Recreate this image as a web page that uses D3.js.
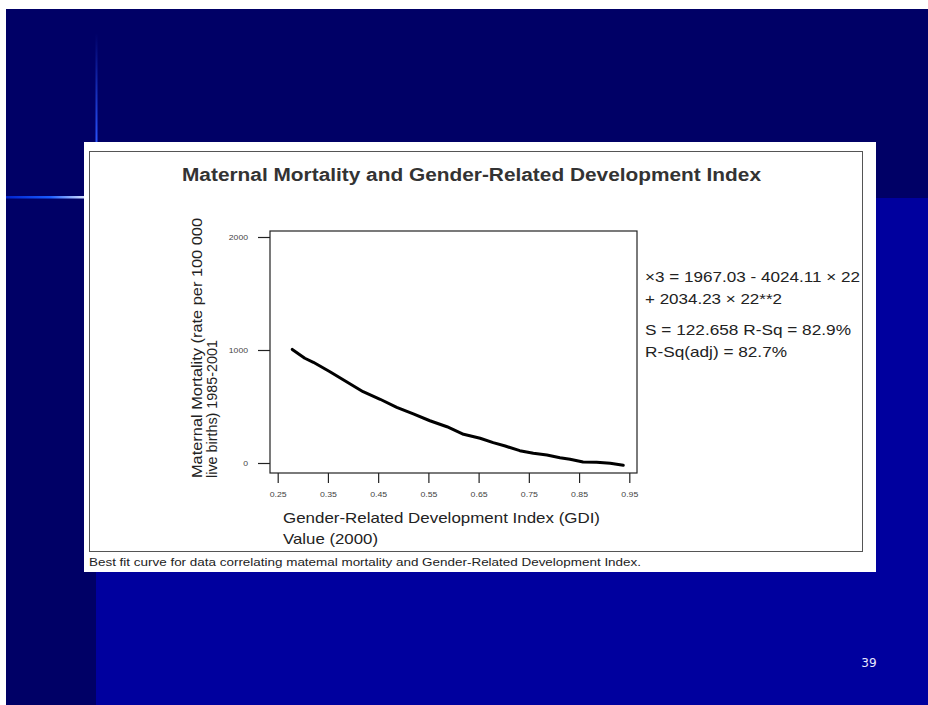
<!DOCTYPE html>
<html>
<head>
<meta charset="utf-8">
<script src="https://cdn.jsdelivr.net/npm/d3@7"></script>
<style>
  body { margin: 0; background: #fff; }
  svg { display: block; }
</style>
</head>
<body>
<script>
// values
var gdi = [0.279, 0.304, 0.321, 0.354, 0.387, 0.420, 0.454, 0.487, 0.520, 0.553, 0.587, 0.620,
           0.653, 0.679, 0.703, 0.732, 0.759, 0.786, 0.812, 0.832, 0.858, 0.885, 0.912, 0.938];
var mortality = [1005, 927, 891, 808, 719, 631, 564, 493, 434, 374, 321, 254,
                 219, 180, 150, 109, 86, 71, 47, 33, 9, 6, -3, -20];
var xTicks = [0.25, 0.35, 0.45, 0.55, 0.65, 0.75, 0.85, 0.95];
var yTicks = [0, 1000, 2000];
var fitLines = ["\u00d73 = 1967.03 - 4024.11 \u00d7 22", "+ 2034.23 \u00d7 22**2"];
var statLines = ["S = 122.658 R-Sq = 82.9%", "R-Sq(adj) = 82.7%"];

var W = 928, H = 705;
var font = "Arial, 'Liberation Sans', sans-serif";

// the source figure is stretched sideways, so text is fitted to its measured width
function stretch(sel, w) {
  sel.attr("textLength", w).attr("lengthAdjust", "spacingAndGlyphs");
}

var svg = d3.select("body").append("svg")
  .attr("width", W)
  .attr("height", H);

var defs = svg.append("defs");
var gv = defs.append("linearGradient").attr("id", "glowV")
  .attr("x1", 0).attr("y1", 0).attr("x2", 0).attr("y2", 1);
gv.append("stop").attr("offset", "0%").attr("stop-color", "#000066");
gv.append("stop").attr("offset", "100%").attr("stop-color", "#2a55ff");
var gh = defs.append("linearGradient").attr("id", "glowH")
  .attr("x1", 0).attr("y1", 0).attr("x2", 1).attr("y2", 0);
gh.append("stop").attr("offset", "0%").attr("stop-color", "#0022cc");
gh.append("stop").attr("offset", "55%").attr("stop-color", "#1a5cff");
gh.append("stop").attr("offset", "100%").attr("stop-color", "#e0e8ff");

// slide background
svg.append("rect").attr("x", 6).attr("y", 9).attr("width", W - 6).attr("height", H - 9)
  .attr("fill", "#000066");
svg.append("rect").attr("x", 96).attr("y", 198).attr("width", W - 96).attr("height", H - 198)
  .attr("fill", "#00009e");
svg.append("rect").attr("x", 95.5).attr("y", 33).attr("width", 2).attr("height", 112)
  .attr("fill", "url(#glowV)");
svg.append("rect").attr("x", 6).attr("y", 196).attr("width", 80).attr("height", 2.5)
  .attr("fill", "url(#glowH)");

// white figure panel
svg.append("rect").attr("x", 84).attr("y", 142).attr("width", 792).attr("height", 430)
  .attr("fill", "#fff");
svg.append("rect").attr("x", 89.5).attr("y", 151.5).attr("width", 773).attr("height", 400)
  .attr("fill", "none").attr("stroke", "#555").attr("stroke-width", 1);

svg.append("text")
  .attr("x", 182).attr("y", 181)
  .style("font", "bold 17.5px " + font)
  .attr("fill", "#333")
  .text("Maternal Mortality and Gender-Related Development Index")
  .call(stretch, 579);

// plot
var x = d3.scaleLinear().domain([0.25, 0.95]).range([277.7, 629.3]);
var y = d3.scaleLinear().domain([0, 2000]).range([463, 237]);
var box = { left: 270, right: 637, top: 231, bottom: 473 };

svg.append("rect")
  .attr("x", box.left).attr("y", box.top)
  .attr("width", box.right - box.left).attr("height", box.bottom - box.top)
  .attr("fill", "none").attr("stroke", "#222").attr("stroke-width", 1.2);

var xAxis = svg.append("g")
  .attr("transform", "translate(0," + box.bottom + ")")
  .call(d3.axisBottom(x).tickValues(xTicks).tickSize(10).tickPadding(9)
    .tickFormat(d3.format(".2f")));
var yAxis = svg.append("g")
  .attr("transform", "translate(" + box.left + ",0)")
  .call(d3.axisLeft(y).tickValues(yTicks).tickSize(12).tickPadding(10)
    .tickFormat(d3.format("d")));

[xAxis, yAxis].forEach(function(a) {
  a.select(".domain").remove();
  a.selectAll(".tick line").attr("stroke", "#222").attr("stroke-width", 1.2);
  a.selectAll(".tick text")
    .style("font-family", font)
    .style("font-size", "7px")
    .attr("fill", "#444");
});
xAxis.selectAll(".tick text").call(stretch, 17);
yAxis.selectAll(".tick text").each(function(d) {
  d3.select(this).call(stretch, String(d).length * 4.8);
});

var line = d3.line()
  .x(function(d, i) { return x(gdi[i]); })
  .y(function(d) { return y(d); });

svg.append("path")
  .datum(mortality)
  .attr("d", line)
  .attr("fill", "none")
  .attr("stroke", "#000")
  .attr("stroke-width", 3)
  .attr("stroke-linejoin", "round")
  .attr("stroke-linecap", "round");

// axis titles
var yt = svg.append("text")
  .attr("transform", "translate(202,478) rotate(-90)")
  .style("font", "14.5px " + font)
  .attr("fill", "#222");
yt.append("tspan").attr("x", 0).attr("y", 0)
  .text("Maternal Mortality (rate per 100 000").call(stretch, 260);
yt.append("tspan").attr("x", 0).attr("y", 15)
  .text("live births) 1985-2001").call(stretch, 138);

var xt = svg.append("text")
  .style("font", "15px " + font)
  .attr("fill", "#222");
xt.append("tspan").attr("x", 283).attr("y", 523)
  .text("Gender-Related Development Index (GDI)").call(stretch, 317);
xt.append("tspan").attr("x", 283).attr("y", 544)
  .text("Value (2000)").call(stretch, 95);

// regression text
var fitWidths = [215, 137], statWidths = [206, 142];
svg.selectAll(".fit")
  .data(fitLines)
  .enter().append("text")
  .attr("class", "fit")
  .attr("x", 645)
  .attr("y", function(d, i) { return 282 + i * 22; })
  .style("font", "14.5px " + font)
  .attr("fill", "#222")
  .text(function(d) { return d; })
  .attr("textLength", function(d, i) { return fitWidths[i]; })
  .attr("lengthAdjust", "spacingAndGlyphs");
svg.selectAll(".stat")
  .data(statLines)
  .enter().append("text")
  .attr("class", "stat")
  .attr("x", 645)
  .attr("y", function(d, i) { return 335 + i * 22; })
  .style("font", "14.5px " + font)
  .attr("fill", "#222")
  .text(function(d) { return d; })
  .attr("textLength", function(d, i) { return statWidths[i]; })
  .attr("lengthAdjust", "spacingAndGlyphs");

svg.append("text")
  .attr("x", 89).attr("y", 566)
  .style("font", "11px " + font)
  .attr("fill", "#222")
  .text("Best fit curve for data correlating matemal mortality and Gender-Related Development Index.")
  .call(stretch, 552);

svg.append("text")
  .attr("x", 869).attr("y", 667)
  .attr("text-anchor", "middle")
  .style("font", "12px 'DejaVu Sans', sans-serif")
  .attr("fill", "#e8e8ff")
  .text("39");
</script>
</body>
</html>
